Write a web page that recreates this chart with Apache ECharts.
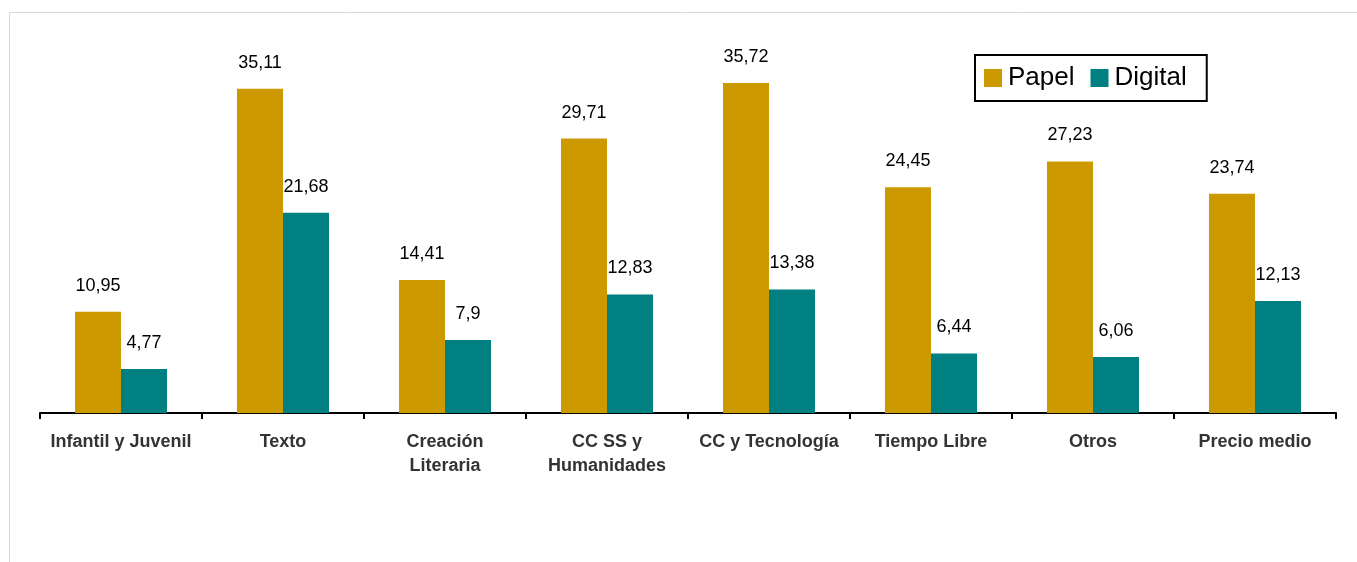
<!DOCTYPE html>
<html><head><meta charset="utf-8">
<script src="https://cdn.jsdelivr.net/npm/echarts@6/dist/echarts.min.js"></script>
<style>html,body{margin:0;padding:0;background:#fff}#c{width:1357px;height:562px}</style>
</head><body><div id="c"></div>
<script>
const categories = ["Infantil y Juvenil","Texto","Creación\nLiteraria","CC SS y\nHumanidades","CC y Tecnología","Tiempo Libre","Otros","Precio medio"];
const papel = [10.95,35.11,14.41,29.71,35.72,24.45,27.23,23.74];
const digital = [4.77,21.68,7.9,12.83,13.38,6.44,6.06,12.13];
const seriesNames = ["Papel","Digital"];

const chart = echarts.init(document.getElementById('c'));
const fmt = p => String(p.value).replace('.', ',');
const lbl = {show:true, position:'top', distance:17, color:'#000', fontSize:18, fontFamily:'Liberation Sans, Arial', formatter:fmt};
chart.setOption({
  animation:false,
  backgroundColor:'#fff',
  graphic:[{type:'rect', shape:{x:9.5,y:12.5,width:1400,height:600}, style:{fill:'none', stroke:'#d9d9d9', lineWidth:1}, silent:true}],
  legend:{
    left:975, top:55, orient:'horizontal',
    borderColor:'#000', borderWidth:2, padding:[10,20,10,9],
    itemWidth:18, itemHeight:18, itemGap:16,
    icon:'rect',
    textStyle:{fontSize:26, color:'#000', fontFamily:'Liberation Sans, Arial', padding:[0,0,0,1]},
    data:seriesNames
  },
  grid:{left:40, right:21, top:43.5, bottom:149, containLabel:false},
  xAxis:{
    type:'category', data:categories,
    axisLine:{lineStyle:{color:'#000', width:2}},
    axisTick:{show:true, length:6, lineStyle:{color:'#000', width:2}},
    axisLabel:{fontSize:18, fontWeight:'bold', color:'#333', fontFamily:'Liberation Sans, Arial', margin:17, lineHeight:24, interval:0}
  },
  yAxis:{type:'value', min:0, max:40, show:false, splitLine:{show:false}},
  series:[
    {name:seriesNames[0], type:'bar', data:papel, barWidth:46, barGap:'0%', itemStyle:{color:'#CC9900'}, label:lbl},
    {name:seriesNames[1], type:'bar', data:digital, barWidth:46, barGap:'0%', itemStyle:{color:'#008080'}, label:lbl}
  ]
});
</script></body></html>
